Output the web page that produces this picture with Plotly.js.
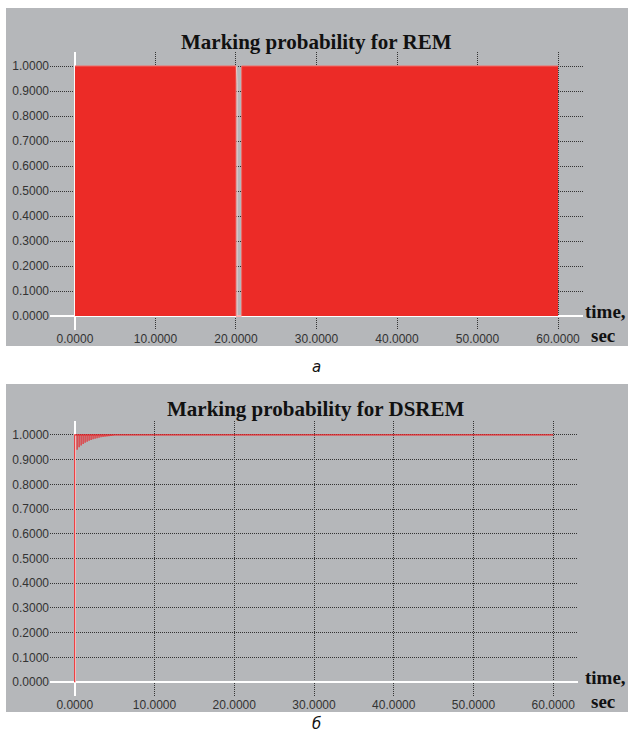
<!DOCTYPE html>
<html>
<head>
<meta charset="utf-8">
<script src="https://cdn.plot.ly/plotly-3.0.1.min.js"></script>
<style>html,body{margin:0;padding:0;background:#fff;}#chart{width:630px;height:735px;}</style>
</head>
<body>
<div id="chart"></div>
<script>
// ---- Data ----
// Panel a: REM marking probability (filled), with a short drop near t = 20 s
var remTime  = [0, 20.0, 20.0, 20.7, 20.7, 60];
var remValue = [1, 1, 0, 0, 1, 1];
var remGapTime  = [20.05, 20.15, 20.15];
var remGapValue = [1.0, 0.93, 0.0];

// Panel б: DSREM marking probability – rise at t=0, then short dips converging to 1
var dsremDipTime  = [0.05, 0.3, 0.55, 0.8, 1.05, 1.3, 1.55, 1.8, 2.05, 2.3, 2.55, 2.8, 3.05, 3.3, 3.55, 3.8, 4.05, 4.3, 4.55, 4.8, 5.05];
var dsremDipValue = [0.925, 0.94, 0.95, 0.957, 0.963, 0.968, 0.972, 0.976, 0.979, 0.982, 0.984, 0.986, 0.988, 0.990, 0.991, 0.992, 0.993, 0.994, 0.995, 0.996, 0.997];
var dsremEndTime = 60;

var xTicks = [0, 10, 20, 30, 40, 50, 60];
var yTicks = [0, 0.1, 0.2, 0.3, 0.4, 0.5, 0.6, 0.7, 0.8, 0.9, 1.0];
var titles = ["Marking probability for REM", "Marking probability for DSREM"];
var captions = ["а", "б"];
var axisLabel = ["time,", "sec"];

// ---- Build DSREM polyline from the data ----
var dsX = [0, 0], dsY = [0, 1];
for (var i = 0; i < dsremDipTime.length; i++) {
  dsX.push(dsremDipTime[i], dsremDipTime[i], dsremDipTime[i]);
  dsY.push(1, dsremDipValue[i], 1);
}
dsX.push(dsremEndTime); dsY.push(1);

var W = 630, H = 735;
function px(x) { return x / W; }
function py(y) { return 1 - y / H; }

var RED = '#ec2b27';
var GRAY = '#b5b7ba';

var traces = [
  {x: remTime, y: remValue, type: 'scatter', mode: 'lines', fill: 'tozeroy',
   fillcolor: RED, line: {color: '#f06a66', width: 1}, xaxis: 'x', yaxis: 'y', hoverinfo: 'none'},
  {x: remGapTime, y: remGapValue, type: 'scatter', mode: 'lines',
   line: {color: 'rgba(236,205,205,0.9)', width: 1}, xaxis: 'x', yaxis: 'y', hoverinfo: 'none'},
  {x: dsX, y: dsY, type: 'scatter', mode: 'lines',
   line: {color: '#e8262a', width: 1.2}, xaxis: 'x2', yaxis: 'y2', hoverinfo: 'none'}
];

var tickFont = {family: 'Liberation Sans, Arial, sans-serif', size: 12, color: '#333'};
function xa(domainPx, anchor) {
  return {
    domain: [px(domainPx[0]), px(domainPx[1])], anchor: anchor,
    range: [-3.1, 63.1], tickvals: xTicks, tickformat: '.4f',
    showgrid: true, gridcolor: '#333333', griddash: '1px,1px', gridwidth: 1,
    zeroline: true, zerolinecolor: '#ffffff', zerolinewidth: 2,
    showline: false, ticks: '', fixedrange: true, tickfont: tickFont
  };
}
function ya(domainPy, anchor) {
  return {
    domain: [py(domainPy[1]), py(domainPy[0])], anchor: anchor,
    range: [-0.056, 1.056], tickvals: yTicks, tickformat: '.4f',
    showgrid: true, gridcolor: '#333333', griddash: '1px,1px', gridwidth: 1,
    zeroline: true, zerolinecolor: '#ffffff', zerolinewidth: 2,
    showline: false, ticks: '', fixedrange: true, tickfont: tickFont
  };
}

var serifBold = function (s) { return {family: 'Liberation Serif, Times New Roman, serif', size: s, color: '#111'}; };
function ann(text, x, y, font) {
  return {text: text, xref: 'paper', yref: 'paper', x: px(x), y: py(y),
          showarrow: false, xanchor: 'center', yanchor: 'middle', font: font};
}

var layout = {
  width: W, height: H,
  margin: {l: 0, r: 0, t: 0, b: 0},
  paper_bgcolor: '#ffffff', plot_bgcolor: 'rgba(0,0,0,0)',
  showlegend: false,
  xaxis: xa([50, 583], 'y'),
  yaxis: ya([52, 330], 'x'),
  xaxis2: xa([50, 578], 'y2'),
  yaxis2: ya([421, 696], 'x2'),
  shapes: [
    {type: 'rect', xref: 'paper', yref: 'paper', x0: px(6), x1: px(628), y0: py(346), y1: py(8),
     fillcolor: GRAY, line: {width: 0}, layer: 'below'},
    {type: 'rect', xref: 'paper', yref: 'paper', x0: px(6), x1: px(628), y0: py(712), y1: py(384),
     fillcolor: GRAY, line: {width: 0}, layer: 'below'}
  ],
  annotations: [
    ann('<b>' + titles[0] + '</b>', 316, 42, serifBold(21)),
    ann('<b>' + titles[1] + '</b>', 316, 409, serifBold(21)),
    ann('<b>' + axisLabel[0] + '</b>', 605, 311, serifBold(19)),
    ann('<b>' + axisLabel[1] + '</b>', 603, 335, serifBold(19)),
    ann('<b>' + axisLabel[0] + '</b>', 605, 677, serifBold(19)),
    ann('<b>' + axisLabel[1] + '</b>', 603, 701, serifBold(19)),
    ann('<i>' + captions[0] + '</i>', 316, 367, {family: 'DejaVu Sans, sans-serif', size: 15, color: '#111'}),
    ann('<i>' + captions[1] + '</i>', 316, 724, {family: 'DejaVu Sans, sans-serif', size: 15, color: '#111'})
  ]
};

Plotly.newPlot('chart', traces, layout, {displayModeBar: false, staticPlot: true});
</script>
</body>
</html>
